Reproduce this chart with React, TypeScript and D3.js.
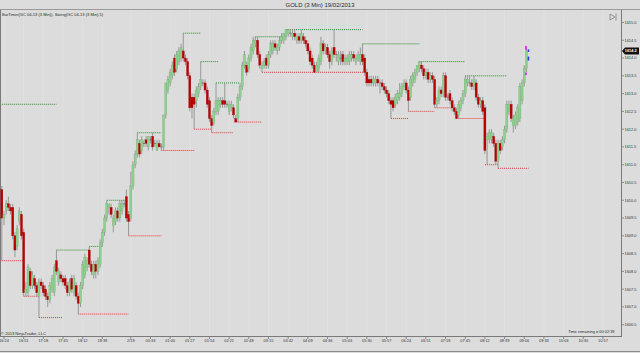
import React from 'react';
import * as d3 from 'd3';

const opens = [
1610.3,1609.5,1609.7,1609.9,1609.8,1609.8,1609.0,1608.7,1609.4,1609.6,
1609.1,1607.4,1607.4,1608.0,1607.6,1607.8,1607.6,1607.3,1607.7,1607.6,
1607.5,1607.3,1607.2,1607.5,1607.4,1608.3,1607.7,1607.9,1607.8,1607.8,
1607.6,1607.4,1607.8,1607.4,1607.6,1607.3,1607.1,1607.6,1607.9,1608.1,
1608.6,1608.2,1607.9,1608.2,1608.0,1608.2,1608.8,1609.1,1609.5,1609.8,
1609.8,1609.3,1609.4,1609.7,1609.5,1609.7,1609.9,1610.1,1609.6,1609.5,
1610.4,1611.0,1611.3,1611.6,1611.4,1611.6,1611.7,1611.5,1611.7,1611.8,
1611.6,1611.4,1611.6,1611.5,1611.5,1612.4,1613.1,1613.3,1613.5,1614.0,
1613.7,1613.9,1614.0,1614.2,1614.0,1613.9,1613.5,1612.9,1612.9,1612.8,
1613.0,1613.2,1613.3,1613.3,1613.1,1612.8,1612.3,1612.2,1612.5,1612.5,
1612.7,1612.8,1612.8,1612.7,1612.5,1612.6,1612.6,1612.3,1612.3,1612.9,
1613.2,1613.8,1613.8,1613.7,1614.0,1614.2,1614.4,1614.5,1614.1,1613.7,
1613.8,1614.0,1613.8,1614.1,1614.2,1614.4,1614.2,1614.3,1614.5,1614.5,
1614.6,1614.7,1614.7,1614.6,1614.7,1614.5,1614.6,1614.5,1614.6,1614.5,
1614.4,1614.2,1614.0,1613.8,1613.6,1613.7,1613.9,1614.4,1614.2,1614.3,
1614.1,1613.9,1614.3,1614.1,1613.9,1614.0,1614.1,1613.9,1613.9,1613.9,
1614.0,1614.1,1613.9,1614.0,1613.9,1614.1,1614.0,1613.6,1613.4,1613.4,
1613.3,1613.3,1613.4,1613.3,1613.3,1613.2,1613.1,1613.0,1612.8,1612.8,
1612.7,1612.8,1612.9,1613.0,1613.2,1613.3,1613.1,1612.9,1613.3,1613.4,
1613.6,1613.7,1613.8,1613.7,1613.5,1613.6,1613.4,1613.5,1613.4,1612.7,
1612.8,1613.1,1613.0,1613.5,1612.9,1613.0,1612.8,1612.6,1612.5,1612.4,
1612.6,1612.8,1613.0,1613.3,1613.3,1613.3,1613.2,1613.3,1612.9,1612.7,
1612.8,1612.6,1611.7,1611.7,1611.7,1611.8,1611.6,1611.1,1611.6,1611.5,
1611.7,1612.0,1612.5,1612.7,1612.1,1612.1,1612.2,1612.3,1612.8,1613.3,
1613.7];

const highs = [
1610.4,1609.7,1610.0,1610.1,1609.9,1609.9,1609.1,1609.3,1609.8,1609.7,
1609.2,1607.7,1608.2,1608.1,1608.0,1607.9,1607.7,1607.8,1607.8,1607.7,
1607.6,1607.4,1607.7,1607.9,1608.2,1608.6,1608.1,1608.0,1607.9,1607.9,
1607.7,1607.8,1607.9,1607.9,1607.7,1607.4,1607.7,1608.3,1608.5,1608.4,
1608.7,1608.3,1608.3,1608.3,1608.4,1608.9,1609.2,1609.6,1610.0,1609.9,
1609.9,1609.6,1609.8,1609.8,1610.0,1610.0,1610.0,1610.3,1609.7,1610.8,
1611.1,1611.4,1611.9,1611.7,1611.8,1611.7,1611.8,1611.8,1611.8,1611.9,
1611.7,1611.7,1611.7,1611.6,1612.4,1613.3,1613.5,1613.7,1613.9,1614.1,
1614.2,1614.3,1614.4,1614.7,1614.1,1614.0,1613.6,1613.0,1613.0,1613.2,
1613.3,1613.9,1613.4,1613.4,1613.2,1612.9,1612.4,1612.6,1613.3,1612.9,
1612.9,1612.9,1613.3,1612.8,1612.8,1612.8,1612.7,1612.4,1613.0,1613.3,
1613.9,1614.2,1613.9,1614.1,1614.4,1614.6,1614.6,1614.6,1614.2,1613.9,
1614.0,1614.1,1614.2,1614.5,1614.5,1614.5,1614.4,1614.6,1614.7,1614.7,
1614.8,1614.8,1614.8,1614.8,1614.8,1614.7,1614.7,1614.8,1614.7,1614.6,
1614.5,1614.3,1614.1,1613.9,1613.9,1614.1,1614.6,1614.5,1614.4,1614.4,
1614.2,1614.3,1614.8,1614.2,1614.2,1614.2,1614.2,1614.1,1614.1,1614.2,
1614.2,1614.2,1614.1,1614.2,1614.3,1614.4,1614.1,1613.7,1613.5,1613.5,
1613.5,1613.5,1613.5,1613.4,1613.4,1613.3,1613.2,1613.1,1612.9,1612.9,
1613.0,1613.1,1613.3,1613.3,1613.4,1613.4,1613.2,1613.5,1613.6,1613.7,
1613.8,1613.9,1613.9,1613.8,1613.7,1613.7,1613.6,1613.6,1613.5,1612.9,
1613.2,1613.2,1613.6,1613.6,1613.0,1613.1,1612.9,1612.7,1612.6,1612.8,
1612.9,1613.1,1613.5,1613.5,1613.5,1613.4,1613.5,1613.4,1613.0,1612.9,
1612.9,1612.7,1611.9,1612.0,1612.0,1611.9,1611.7,1611.7,1611.7,1611.8,
1612.1,1612.8,1612.8,1612.8,1612.4,1612.5,1612.7,1613.3,1613.4,1613.8,
1614.3];

const lows = [
1608.3,1609.3,1609.6,1609.7,1609.6,1608.9,1608.4,1608.6,1609.3,1608.9,
1607.3,1607.3,1607.3,1607.5,1607.5,1607.5,1607.3,1606.7,1607.5,1607.3,
1607.2,1607.0,1607.1,1607.4,1607.3,1607.9,1607.6,1607.7,1607.6,1607.5,
1607.3,1607.3,1607.4,1607.3,1607.2,1606.8,1607.0,1607.5,1607.8,1608.0,
1608.1,1607.9,1607.8,1607.8,1607.9,1608.1,1608.7,1609.0,1609.4,1609.6,
1609.5,1609.1,1609.3,1609.4,1609.4,1609.6,1609.8,1609.4,1609.0,1609.4,
1610.3,1610.9,1611.2,1611.2,1611.3,1611.5,1611.5,1611.4,1611.6,1611.4,
1611.5,1611.4,1611.5,1611.4,1611.4,1612.3,1613.0,1613.2,1613.4,1613.5,
1613.6,1613.8,1613.9,1613.9,1613.8,1613.4,1612.5,1612.3,1612.0,1612.6,
1612.9,1613.1,1613.2,1613.0,1612.6,1612.2,1611.9,1612.1,1612.4,1612.4,
1612.6,1612.6,1612.6,1612.6,1612.4,1612.5,1612.3,1612.2,1612.2,1612.8,
1613.1,1613.7,1613.5,1613.6,1613.9,1614.1,1614.3,1614.0,1613.7,1613.6,
1613.7,1613.7,1613.7,1614.0,1614.1,1614.2,1614.1,1614.2,1614.4,1614.4,
1614.5,1614.6,1614.6,1614.5,1614.5,1614.4,1614.4,1614.4,1614.4,1614.3,
1614.1,1613.8,1613.7,1613.6,1613.6,1613.6,1613.8,1614.1,1614.1,1614.0,
1613.7,1613.8,1614.0,1613.9,1613.8,1613.8,1613.8,1613.8,1613.8,1613.8,
1613.9,1613.9,1613.8,1613.9,1613.8,1613.8,1613.5,1613.2,1613.2,1613.2,
1613.2,1613.2,1613.2,1613.0,1613.1,1613.0,1612.9,1612.7,1612.3,1612.5,
1612.6,1612.7,1612.8,1612.9,1613.1,1613.0,1612.5,1612.8,1613.2,1613.3,
1613.5,1613.6,1613.6,1613.4,1613.4,1613.3,1613.3,1613.3,1612.6,1612.6,
1612.7,1612.9,1612.9,1612.8,1612.8,1612.7,1612.5,1612.4,1612.3,1612.3,
1612.5,1612.7,1612.9,1613.2,1613.2,1613.1,1613.1,1612.8,1612.6,1612.6,
1612.4,1611.3,1611.0,1611.6,1611.6,1611.5,1611.0,1610.9,1611.3,1611.4,
1611.6,1611.9,1612.4,1612.2,1611.9,1612.0,1612.1,1612.2,1612.7,1613.2,
1613.6];

const closes = [
1609.5,1609.6,1609.9,1609.8,1609.7,1609.0,1608.6,1609.2,1609.7,1609.0,
1607.4,1607.5,1608.1,1607.6,1607.9,1607.6,1607.4,1607.7,1607.6,1607.4,
1607.3,1607.2,1607.6,1607.8,1608.1,1608.0,1608.0,1607.8,1607.7,1607.6,
1607.4,1607.7,1607.5,1607.8,1607.3,1607.1,1607.6,1608.2,1608.4,1608.3,
1608.2,1608.0,1608.2,1608.0,1608.3,1608.8,1609.1,1609.5,1609.9,1609.9,
1609.6,1609.5,1609.7,1609.5,1609.9,1609.9,1609.9,1609.5,1609.4,1610.4,
1611.0,1611.3,1611.7,1611.3,1611.7,1611.6,1611.6,1611.8,1611.7,1611.5,
1611.6,1611.6,1611.5,1611.5,1612.4,1613.3,1613.4,1613.6,1613.8,1613.6,
1614.1,1614.2,1614.3,1614.0,1613.9,1613.5,1612.6,1612.6,1612.7,1613.1,
1613.2,1613.4,1613.3,1613.1,1612.7,1612.3,1612.1,1612.5,1612.8,1612.8,
1612.8,1612.7,1612.7,1612.7,1612.7,1612.7,1612.4,1612.2,1612.9,1613.2,
1613.8,1614.1,1613.6,1614.0,1614.3,1614.5,1614.5,1614.1,1613.8,1613.8,
1613.9,1613.8,1614.1,1614.4,1614.4,1614.3,1614.3,1614.5,1614.6,1614.7,
1614.8,1614.8,1614.7,1614.7,1614.6,1614.6,1614.5,1614.7,1614.5,1614.4,
1614.2,1613.9,1613.8,1613.6,1613.8,1614.0,1614.4,1614.2,1614.3,1614.1,
1613.9,1614.2,1614.1,1614.1,1614.1,1614.0,1613.9,1614.0,1614.0,1614.1,
1614.1,1614.0,1614.0,1614.1,1614.1,1613.9,1613.6,1613.3,1613.3,1613.3,
1613.4,1613.4,1613.3,1613.3,1613.2,1613.1,1613.0,1612.8,1612.7,1612.6,
1612.9,1613.0,1613.0,1613.2,1613.3,1613.1,1612.8,1613.4,1613.5,1613.6,
1613.8,1613.9,1613.7,1613.5,1613.6,1613.4,1613.5,1613.4,1612.7,1612.8,
1613.1,1613.0,1613.5,1612.9,1612.9,1612.8,1612.6,1612.5,1612.3,1612.7,
1612.8,1613.0,1613.4,1613.4,1613.3,1613.2,1613.4,1612.9,1612.7,1612.8,
1612.5,1611.4,1611.8,1611.9,1611.9,1611.6,1611.1,1611.6,1611.4,1611.7,
1612.0,1612.7,1612.7,1612.3,1612.3,1612.4,1612.6,1613.2,1613.3,1613.7,
1614.2];

// swing lines: [startBar, endBar, price]
const swingHighs: [number, number, number][] = [
  [0, 25, 1612.7], [25, 40, 1608.6], [40, 46, 1608.7], [48, 57, 1610.0],
  [62, 73, 1611.9], [83, 91, 1614.7], [91, 99, 1613.9], [98, 109, 1613.3],
  [116, 130, 1614.6], [130, 165, 1614.8], [165, 191, 1614.4],
  [191, 212, 1613.9], [212, 231, 1613.5],
];
const swingLows: [number, number, number][] = [
  [0, 10, 1608.3], [10, 17, 1607.3], [17, 28, 1606.7], [35, 58, 1606.8],
  [58, 73, 1609.0], [73, 88, 1611.4], [88, 96, 1612.0], [96, 106, 1611.9],
  [107, 119, 1612.2], [119, 167, 1613.6], [178, 186, 1612.3],
  [186, 198, 1612.5], [198, 206, 1612.6], [208, 221, 1612.3],
  [221, 227, 1611.0], [227, 241, 1610.9],
];

const timeLabels = ['16:24','16:51','17:18','17:45','18:12','18:39','2/19','00:33','01:00','01:27','01:54','02:21','02:48','03:15','03:42','04:09','04:36','05:03','05:30','05:57','06:24','06:51','07:18','07:45','08:12','08:39','09:06','09:33','10:03','10:30','10:57'];
const timeLabelBars = [1,10,19,28,37,46,59,68,77,86,95,104,113,122,131,140,149,158,167,176,185,194,203,212,221,230,239,248,257,266,275];

const priceTicks = d3.range(1606.5, 1615.01, 0.5);
const lastPrice = 1614.2;
// bid/ask markers at the last bar
const askMarks = [1614.3, 1613.55];
const bidMarks = [1614.2, 1614.0];

const W = 640, H = 353;
const plotRight = 621;
const plotTop = 10;
const plotBottom = 336;

export default function App() {
  const x = d3.scaleLinear().domain([0, 283]).range([1.8, 1.8 + 283 * 2.186]);
  const y = d3.scaleLinear().domain([1606.5, 1615.0]).range([324.7, 22.5]);
  const fmt = d3.format('.1f');
  const font = 'Liberation Sans, Arial, sans-serif';
  const lastIdx = closes.length - 1;

  return (
    <svg width={W} height={H} style={{ position: 'absolute', left: 0, top: 0 }} fontFamily={font}>
      <rect x={0} y={0} width={W} height={H} fill="#dcdcdc" />
      <text x={320} y={7.3} textAnchor="middle" fontSize={6} fill="#2a2a2a">GOLD (3 Min)  19/02/2013</text>
      <line x1={0} x2={W} y1={9.5} y2={9.5} stroke="#9a9a9a" strokeWidth={1} />
      {timeLabelBars.map((b, k) => (
        <line key={'g' + k} x1={x(b)} x2={x(b)} y1={plotTop} y2={plotBottom} stroke="#e2e2e2" strokeWidth={0.7} />
      ))}
      <line x1={0.5} x2={0.5} y1={plotTop} y2={plotBottom} stroke="#7a7a7a" />
      <line x1={plotRight + 0.5} x2={plotRight + 0.5} y1={plotTop} y2={plotBottom} stroke="#7a7a7a" />
      <line x1={0} x2={plotRight + 1} y1={plotBottom + 0.5} y2={plotBottom + 0.5} stroke="#7a7a7a" />
      <line x1={0} x2={W} y1={351.5} y2={351.5} stroke="#8a8a8a" />

      <text x={2} y={16} fontSize={3.9} fill="#2a2a2a" textLength={101} lengthAdjust="spacingAndGlyphs">BarTimer(GC 04-13 (3 Min)), Swing(GC 04-13 (3 Min),5)</text>
      <path d="M610,14 L615,17 L610,20 Z" fill="none" stroke="#666" strokeWidth={0.6} />
      <line x1={616} x2={616} y1={13.5} y2={20.5} stroke="#666" strokeWidth={0.6} />

      {swingHighs.map(([s, e, p], k) => (
        <line key={'sh' + k} x1={x(s)} x2={x(e)} y1={y(p)} y2={y(p)} stroke="#2f8a2f" strokeWidth={1} strokeDasharray="1,1" />
      ))}
      {swingLows.map(([s, e, p], k) => (
        <line key={'sl' + k} x1={x(s)} x2={x(e)} y1={y(p)} y2={y(p)} stroke="#e63232" strokeWidth={1} strokeDasharray="1,1" />
      ))}

      {closes.map((c, i) => {
        const o = opens[i];
        const cx = x(i);
        const up = c > o;
        const doji = c === o;
        const top = y(Math.max(o, c));
        const bot = y(Math.min(o, c));
        return (
          <g key={'c' + i}>
            <line x1={cx} x2={cx} y1={y(highs[i])} y2={y(lows[i])} stroke="#8e8e8e" strokeWidth={0.9} />
            {doji ? (
              <line x1={cx - 1.1} x2={cx + 1.1} y1={top} y2={top} stroke="#6e6e6e" strokeWidth={0.9} />
            ) : (
              <rect x={cx - 1.05} y={top} width={2.1} height={Math.max(0.8, bot - top)}
                fill={up ? '#8fcf8f' : '#b80000'} stroke={up ? '#6fae6f' : '#a00000'} strokeWidth={0.3} />
            )}
          </g>
        );
      })}

      {askMarks.map((p, k) => (
        <rect key={'a' + k} x={x(lastIdx) - 1.3} y={y(p) - 1.5} width={1.6} height={k === 0 ? 4 : 2.5} fill="#e020e0" />
      ))}
      {bidMarks.map((p, k) => (
        <rect key={'b' + k} x={x(lastIdx) + 1.2} y={y(p) - 1.5} width={1.6} height={k === 0 ? 2.5 : 4} fill="#2040e0" />
      ))}

      {priceTicks.map((p, k) => (
        <g key={'p' + k}>
          <line x1={plotRight + 1} x2={plotRight + 3} y1={y(p)} y2={y(p)} stroke="#555" strokeWidth={0.6} />
          <text x={624.5} y={y(p) + 1.4} fontSize={3.9} fill="#333">{fmt(p)}</text>
        </g>
      ))}
      <path d={`M${plotRight + 1},${y(lastPrice)} L${plotRight + 4},${y(lastPrice) - 3.5} L639,${y(lastPrice) - 3.5} L639,${y(lastPrice) + 3.5} L${plotRight + 4},${y(lastPrice) + 3.5} Z`} fill="#111" />
      <text x={624.8} y={y(lastPrice) + 1.4} fontSize={3.9} fontWeight="bold" fill="#fff">{fmt(lastPrice)}</text>

      {timeLabels.map((t, k) => (
        <g key={'t' + k}>
          <line x1={x(timeLabelBars[k])} x2={x(timeLabelBars[k])} y1={plotBottom + 1} y2={plotBottom + 3} stroke="#555" strokeWidth={0.6} />
          <text x={x(timeLabelBars[k])} y={342.4} textAnchor="middle" fontSize={3.9} fill="#333">{t}</text>
        </g>
      ))}

      <text x={1} y={334.5} fontSize={3.9} fill="#2a2a2a" textLength={45} lengthAdjust="spacingAndGlyphs">© 2013 NinjaTrader, LLC</text>
      <text x={614.5} y={332.5} fontSize={3.9} fill="#2a2a2a" textAnchor="end">Time remaining = 00:02:39</text>
    </svg>
  );
}
